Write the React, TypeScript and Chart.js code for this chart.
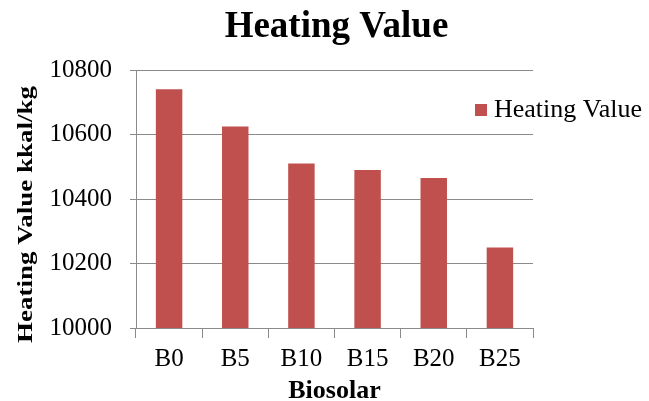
import React, { useEffect, useRef } from "react";
import { Chart, registerables } from "chart.js";

Chart.register(...registerables);

const categories = ["B0", "B5", "B10", "B15", "B20", "B25"];
const heatingValues = [10740, 10625, 10510, 10490, 10465, 10250];
const seriesLabel = "Heating Value";
const chartTitle = "Heating Value";
const xAxisTitle = "Biosolar";
const yAxisTitle = "Heating Value kkal/kg";
const yMin = 10000;
const yMax = 10800;
const yStep = 200;

const FONT = "'Liberation Serif', 'Times New Roman', serif";
const BAR_COLOR = "#C0504D";
const GRID_COLOR = "#8a8a8a";

const textPlugin = {
  id: "textPlugin",
  afterDraw(chart: any) {
    const ctx = chart.ctx;
    const area = chart.chartArea;
    ctx.save();
    ctx.fillStyle = "#000";
    // Title
    ctx.font = `bold 37px ${FONT}`;
    ctx.textAlign = "center";
    ctx.textBaseline = "alphabetic";
    ctx.fillText(chartTitle, 336.5, 37);
    // X axis title
    ctx.font = `bold 26px ${FONT}`;
    ctx.fillText(xAxisTitle, (area.left + area.right) / 2, 398);
    // Y axis title
    ctx.save();
    ctx.translate(32, 214.5);
    ctx.rotate(-Math.PI / 2);
    ctx.scale(1, 0.8);
    ctx.textBaseline = "alphabetic";
    ctx.font = `bold 27px ${FONT}`;
    ctx.fillText(yAxisTitle, 0, 0);
    ctx.restore();
    // Legend
    ctx.fillStyle = BAR_COLOR;
    ctx.fillRect(475, 104, 12, 12);
    ctx.fillStyle = "#000";
    ctx.font = `26px ${FONT}`;
    ctx.textAlign = "left";
    ctx.textBaseline = "middle";
    ctx.fillText(seriesLabel, 494, 110);
    ctx.restore();
  },
};

export default function App() {
  const ref = useRef<HTMLCanvasElement>(null);
  useEffect(() => {
    if (!ref.current) return;
    const chart = new Chart(ref.current, {
      type: "bar",
      data: {
        labels: categories,
        datasets: [
          {
            label: seriesLabel,
            data: heatingValues,
            backgroundColor: BAR_COLOR,
            borderWidth: 0,
            barPercentage: 0.4,
            categoryPercentage: 1.0,
          },
        ],
      },
      options: {
        animation: false,
        responsive: false,
        layout: { padding: { left: 0, top: 70, right: 116, bottom: 0 } },
        plugins: {
          legend: { display: false },
          title: { display: false },
          tooltip: { enabled: false },
        },
        scales: {
          x: {
            afterFit(scale: any) {
              scale.height = 73;
            },
            grid: {
              display: true,
              drawOnChartArea: false,
              drawTicks: true,
              tickLength: 10,
              color: GRID_COLOR,
              offset: true,
            },
            border: { display: true, color: GRID_COLOR },
            ticks: {
              color: "#000",
              font: { family: FONT, size: 25 },
              padding: 6,
              maxRotation: 0,
            },
          },
          y: {
            min: yMin,
            max: yMax,
            afterFit(scale: any) {
              scale.width = 136;
            },
            grid: {
              color: GRID_COLOR,
              tickLength: 6,
            },
            border: { display: true, color: GRID_COLOR },
            ticks: {
              stepSize: yStep,
              color: "#000",
              font: { family: FONT, size: 25 },
              padding: 18,
              callback: (v: any) => String(v),
            },
          },
        },
      },
      plugins: [textPlugin],
    });
    return () => chart.destroy();
  }, []);
  return (
    <div style={{ position: "absolute", left: 0, top: 0, width: 649, height: 401, background: "#fff" }}>
      <canvas ref={ref} width={649} height={401} style={{ width: 649, height: 401 }} />
    </div>
  );
}
